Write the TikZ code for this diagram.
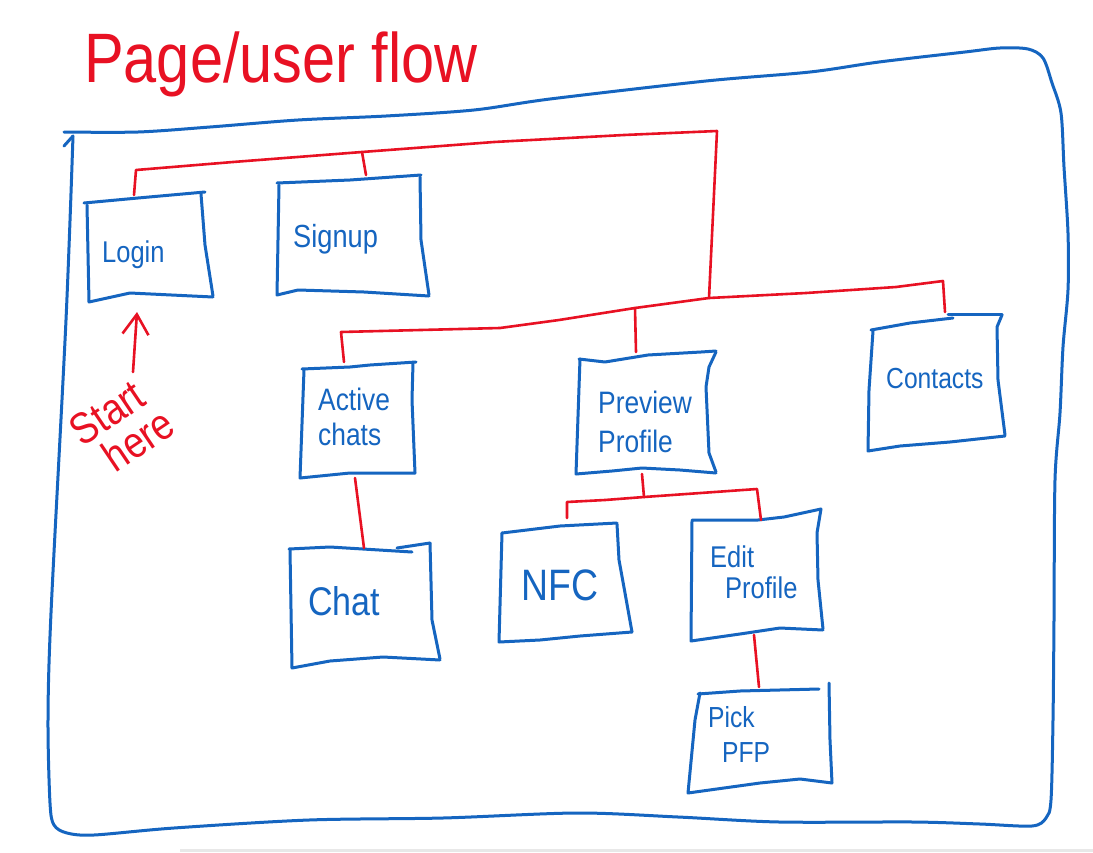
\documentclass[tikz,border=0pt]{standalone}
\usepackage{fontspec}
\newfontfamily\hand[FakeStretch=0.85]{Liberation Sans}
\usetikzlibrary{arrows.meta}
\definecolor{penblue}{HTML}{1565C0}
\definecolor{penred}{HTML}{E81123}
\newcommand{\fsz}[2]{\fontsize{#1}{#2}\selectfont}
\tikzset{
  box/.style={draw=penblue, line width=3pt, line cap=round, line join=round},
  frame/.style={draw=penblue, line width=3pt, line cap=round, line join=round},
  redline/.style={draw=penred, line width=2.6pt, line cap=round, line join=round},
  lbl/.style={text=penblue, inner sep=0pt},
  redlbl/.style={text=penred, inner sep=0pt},
}
\begin{document}
\begin{tikzpicture}[x=1pt,y=-1pt]
\useasboundingbox (0,0) rectangle (1093,852);
\fill[white] (0,0) rectangle (1093,852);
% faint screenshot edge
\draw[gray!18, line width=3pt] (180,850) -- (1093,850);

% title
\node[redlbl, anchor=base west, font=\hand\fsz{70}{80}] (title) at (84,82) {Page/user flow};

% outer frame
\draw[frame] plot[smooth, tension=0.5] coordinates {
 (64,132) (138,132) (210,127) (298,120) (386,116) (474,110) (550,99) (706,81)
 (810,72) (879,62) (965,52) (1000,48) (1028,49) (1043,58) (1052,83) (1061,113)
 (1064,167) (1068,233) (1068,290) (1063,347) (1060,413) (1055,480) (1054,620)
 (1053,720) (1051,800) (1046,818) (1032,826) (980,824) (913,822) (779,822)
 (678,817) (577,813) (443,818) (309,820) (174,828) (94,835) (67,833) (54,825)
 (50,803) (48,720) (51,613) (66,320) (73,136)};
\draw[frame] (64,146) -- (73,136);

% ---------- boxes ----------
% Login
\draw[box] (84,203) -- (138,198) -- (205,192);
\draw[box] (201,194) -- (205,245) -- (213,296);
\draw[box] (87,205) -- (89,302) -- (130,293) -- (213,297);
\node[lbl, anchor=base west, font=\hand\fsz{30}{36}] (login) at (102,262) {Login};

% Signup
\draw[box] (277,183) -- (350,180) -- (421,175);
\draw[box] (420,177) -- (421,240) -- (429,295);
\draw[box] (279,185) -- (277,295) -- (298,290) -- (364,292) -- (429,296);
\node[lbl, anchor=base west, font=\hand\fsz{32}{38}] (signup) at (293,247) {Signup};

% Active chats
\draw[box] (302,369) -- (350,367) -- (370,365) -- (416,362);
\draw[box] (413,363) -- (412,400) -- (415,473);
\draw[box] (304,370) -- (300,478) -- (350,473) -- (415,473);
\node[lbl, anchor=north west, align=left, font=\hand\fsz{31}{35}] (active) at (318,388) {Active\\chats};

% Chat
\draw[box] (289,549) -- (330,547) -- (412,552);
\draw[box] (397,548) -- (430,543);
\draw[box] (430,543) -- (432,620) -- (440,659);
\draw[box] (290,550) -- (292,668) -- (330,661) -- (383,657) -- (440,660);
\node[lbl, anchor=base west, font=\hand\fsz{40}{46}] (chat) at (308,615) {Chat};

% Preview Profile
\draw[box] (579,359) -- (605,362) -- (648,355) -- (701,352) -- (716,351);
\draw[box] (716,352) -- (709,367) -- (706,387) -- (709,453) -- (716,472);
\draw[box] (580,359) -- (576,474) -- (612,471) -- (642,468) -- (680,470) -- (716,473);
\node[lbl, anchor=north west, align=left, font=\hand\fsz{31}{39}] (preview) at (598,391) {Preview\\Profile};

% Contacts
\draw[box] (871,330) -- (910,323) -- (953,318);
\draw[box] (948,314) -- (1002,314);
\draw[box] (1002,315) -- (997,327) -- (998,380) -- (1005,435);
\draw[box] (873,331) -- (869,390) -- (868,451) -- (900,446) -- (950,442) -- (1005,436);
\node[lbl, anchor=base west, font=\hand\fsz{29}{35}] (contacts) at (886,388) {Contacts};

% NFC
\draw[box] (502,533) -- (560,526) -- (617,523);
\draw[box] (617,524) -- (619,560) -- (625,593) -- (632,632);
\draw[box] (502,533) -- (499,642) -- (540,640) -- (580,636) -- (632,632);
\node[lbl, anchor=base west, font=\hand\fsz{44}{50}] (nfc) at (521,600) {NFC};

% Edit Profile
\draw[box] (692,520) -- (730,520) -- (758,520) -- (784,517) -- (821,509);
\draw[box] (821,509) -- (817,533) -- (818,580) -- (823,629);
\draw[box] (692,521) -- (691,641) -- (740,634) -- (780,628) -- (823,630);
\node[lbl, anchor=north west, align=left, font=\hand\fsz{30}{31}] (edit) at (710,545.5) {Edit\\\hspace*{15pt}Profile};

% Pick PFP
\draw[box] (698,694) -- (740,691) -- (819,689);
\draw[box] (829,683) -- (830,740) -- (832,783);
\draw[box] (700,693) -- (695,720) -- (688,793) -- (760,783) -- (800,779) -- (832,783);
\node[lbl, anchor=north west, align=left, font=\hand\fsz{29}{35}] (pick) at (708,706) {Pick\\\hspace*{14pt}PFP};

% ---------- red connectors ----------
\coordinate (loginTop) at (134,195);
\coordinate (signupTop) at (366,175);
\coordinate (jA) at (136,170);
\coordinate (jB) at (362,152);
\coordinate (jC) at (717,131);
\coordinate (jD) at (709,298);
\draw[redline] (loginTop) -- (jA) -- (233,162) -- (jB) -- (494,142) -- (624,135) -- (jC) -- (jD);
\draw[redline] (jB) -- (signupTop);

\coordinate (activeTop) at (344,362);
\coordinate (previewTop) at (636,352);
\coordinate (contactsTop) at (945,312);
\coordinate (jE) at (341,332);
\coordinate (jF) at (635,308);
\coordinate (jG) at (943,281);
\draw[redline] (activeTop) -- (jE) -- (500,328) -- (559,320) -- (jF) -- (jD) -- (806,293) -- (896,287) -- (jG) -- (contactsTop);
\draw[redline] (jF) -- (previewTop);

\coordinate (previewBot) at (642,474);
\coordinate (jH) at (644,497);
\coordinate (jI) at (567,502);
\coordinate (jJ) at (757,489);
\coordinate (nfcTop) at (567,518);
\coordinate (editTop) at (761,520);
\draw[redline] (previewBot) -- (jH) -- (605,500) -- (jI) -- (nfcTop);
\draw[redline] (jH) -- (jJ) -- (editTop);

\coordinate (activeBot) at (355,478);
\coordinate (chatTop) at (364,548);
\draw[redline] (activeBot) -- (chatTop);

\coordinate (editBot) at (754,635);
\coordinate (pickTop) at (759,687);
\draw[redline] (editBot) -- (pickTop);

% start here
\coordinate (arrowTail) at (133,372);
\coordinate (arrowTip) at (137,312);
\draw[redline, -{Straight Barb[length=20pt,width=26pt]}] (arrowTail) -- (arrowTip);
\node[redlbl, anchor=base west, rotate=34, align=left, font=\hand\fsz{44}{40}] (start) at (105,481) {Start\\\hspace*{13pt}here};
\end{tikzpicture}
\end{document}
